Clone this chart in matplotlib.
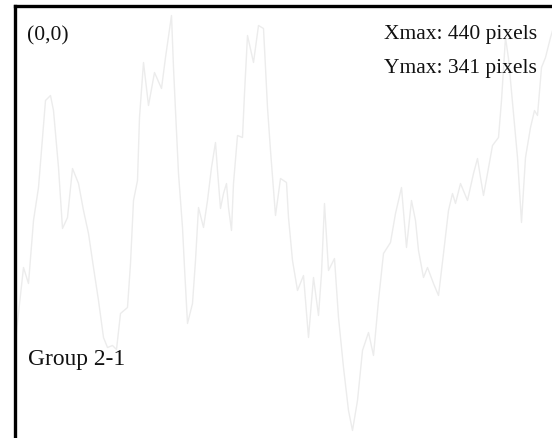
import matplotlib
matplotlib.use("Agg")
import matplotlib.pyplot as plt

# Position along the trace (pixels from left frame edge) and depth (pixels from top frame edge)
x_vals = [1, 9, 14, 19, 24, 31, 36, 39, 44, 48, 53, 58, 64, 69, 74, 79, 84, 89, 93, 98,
          102, 106, 113, 116, 119, 123, 125, 129, 134, 140, 147, 151, 157, 159, 161, 164,
          168, 170, 173, 178, 181, 184, 189, 193, 197, 201, 203, 206, 209, 212, 214, 217,
          219, 223, 228, 230, 233, 239, 244, 249, 251, 253, 256, 261, 266, 272, 274, 278,
          283, 289, 294, 299, 304, 307, 310, 314, 320, 324, 329, 334, 338, 343, 348, 354,
          359, 364, 369, 376, 381, 387, 392, 397, 401, 404, 409, 413, 419, 424, 429, 434,
          438, 441, 446, 453, 459, 463, 466, 469, 473, 478, 484, 487, 491, 494, 499, 503,
          507, 511, 516, 520, 523, 527, 531, 536, 539]
y_vals = [335, 262, 278, 215, 182, 95, 90, 105, 162, 223, 212, 163, 178, 205, 228, 262,
          295, 332, 342, 340, 344, 308, 302, 258, 195, 175, 112, 57, 100, 67, 83, 52, 10,
          62, 105, 168, 222, 262, 318, 298, 255, 202, 222, 195, 162, 137, 165, 203, 188,
          178, 202, 225, 178, 130, 132, 88, 30, 57, 20, 23, 62, 102, 145, 210, 173, 177,
          212, 255, 285, 270, 332, 272, 310, 268, 198, 265, 253, 312, 362, 405, 425, 395,
          345, 327, 350, 295, 248, 237, 208, 182, 242, 195, 215, 245, 272, 262, 278, 290,
          248, 205, 188, 198, 178, 195, 168, 153, 172, 190, 168, 140, 132, 95, 32, 53, 108,
          152, 217, 152, 122, 105, 110, 62, 52, 32, 22]

label_origin = "(0,0)"
label_xmax = "Xmax: 440 pixels"
label_ymax = "Ymax: 341 pixels"
label_group = "Group 2-1"

W, H = 552, 438
fig = plt.figure(figsize=(W / 100, H / 100), dpi=100)
left_px, top_px = 14.5, 5.5
ax = fig.add_axes([left_px / W, 0, 1 - left_px / W, 1 - top_px / H])
ax.set_xlim(0, W - left_px)
ax.set_ylim(H - top_px, 0)
ax.plot(x_vals, y_vals, color="#ececec", linewidth=1.0)

for s in ("right", "bottom"):
    ax.spines[s].set_visible(False)
for s in ("left", "top"):
    ax.spines[s].set_linewidth(2.4)
    ax.spines[s].set_color("black")
ax.set_xticks([])
ax.set_yticks([])

font = dict(family="Liberation Serif", fontsize=15.5, color="#111111")
ax.text(13, 34.5, label_origin, va="baseline", ha="left", **font)
ax.text(369.5, 33.5, label_xmax, va="baseline", ha="left", **font)
ax.text(369.5, 67.5, label_ymax, va="baseline", ha="left", **font)
ax.text(13, 359.5, label_group, va="baseline", ha="left",
        family="Liberation Serif", fontsize=16.9, color="#111111")

fig.savefig("out.png", dpi=100)
